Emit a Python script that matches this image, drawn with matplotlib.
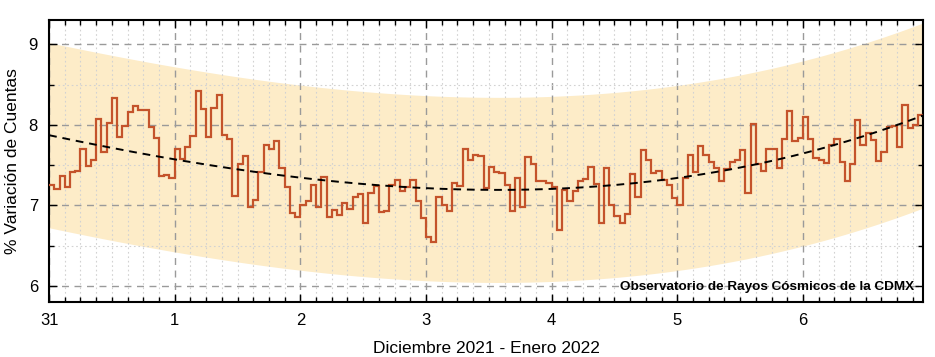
import numpy as np
import matplotlib
matplotlib.use("Agg")
import matplotlib.pyplot as plt
from matplotlib.ticker import MultipleLocator

# --- hourly % variation, Dec 31 2021 -> Jan 6 2022 ---
dec31 = [7.25, 7.21, 7.36, 7.23, 7.42, 7.43, 7.70, 7.49, 7.57, 8.08, 7.67, 8.03,
         8.34, 7.85, 7.99, 8.16, 8.24, 8.18, 8.18, 7.98, 7.84, 7.36, 7.38, 7.34]
jan1 = [7.70, 7.58, 7.73, 7.86, 8.42, 8.20, 7.85, 8.21, 8.37, 7.88, 7.82, 7.12,
        7.51, 7.62, 6.98, 7.07, 7.41, 7.75, 7.70, 7.80, 7.47, 7.23, 6.91, 6.86]
jan2 = [7.00, 7.06, 7.25, 6.98, 7.35, 6.86, 6.94, 6.88, 7.03, 6.96, 7.11, 7.14,
        6.78, 7.16, 7.24, 6.92, 6.93, 7.26, 7.32, 7.18, 7.23, 7.32, 7.05, 6.85]
jan3 = [6.61, 6.54, 7.11, 7.01, 6.93, 7.28, 7.24, 7.70, 7.57, 7.63, 7.61, 7.22,
        7.48, 7.42, 7.40, 7.25, 6.93, 7.34, 6.98, 7.60, 7.51, 7.31, 7.31, 7.28]
jan4 = [7.23, 6.69, 7.19, 7.05, 7.18, 7.30, 7.33, 7.48, 7.27, 6.78, 7.46, 7.00,
        6.87, 6.78, 6.89, 7.39, 7.10, 7.69, 7.56, 7.40, 7.43, 7.32, 7.25, 7.09]
jan5 = [7.01, 7.34, 7.63, 7.41, 7.74, 7.63, 7.54, 7.46, 7.31, 7.45, 7.54, 7.56,
        7.69, 7.15, 8.01, 7.51, 7.43, 7.70, 7.70, 7.47, 7.83, 8.17, 7.80, 7.84]
jan6 = [8.10, 7.82, 7.59, 7.56, 7.53, 7.75, 7.82, 7.54, 7.30, 7.51, 8.06, 7.75,
        7.90, 7.81, 7.55, 7.66, 7.98, 7.99, 7.73, 8.25, 7.96, 8.00, 8.12]

day_labels = ["31", "1", "2", "3", "4", "5", "6"]

# trend curve (dashed) read at each day mark, and the band half width
trend_days = [0, 1, 2, 3, 4, 5, 6, 6.98]
trend_vals = [7.87, 7.58, 7.34, 7.215, 7.205, 7.34, 7.65, 8.13]
band_halfwidth = 1.15

counts = np.array(dec31 + jan1 + jan2 + jan3 + jan4 + jan5 + jan6)
edges = np.arange(len(counts) + 1) / 24.0          # days from Dec 31 00h

# smooth trend through the read points
coef = np.polyfit(trend_days, trend_vals, 3)
t_fit = np.linspace(0, edges[-1], 300)
trend = np.polyval(coef, t_fit)

plt.rcParams["font.family"] = ["Liberation Sans", "DejaVu Sans"]

fig = plt.figure(figsize=(9.35, 3.57), dpi=100)
ax = fig.add_axes([0.0525, 0.154, 0.935, 0.789])

ax.fill_between(t_fit, trend - band_halfwidth, trend + band_halfwidth,
                color="#fdecc8", lw=0, zorder=0)
ax.stairs(counts, edges, baseline=None, color="#c4532b", lw=1.6, zorder=3)
ax.plot(t_fit, trend, color="black", ls=(0, (4, 3)), lw=1.4, zorder=4)

ax.set_xlim(0, edges[-1])
ax.set_ylim(5.8, 9.3)
ax.set_xticks(range(len(day_labels)))
ax.set_xticklabels(day_labels)
ax.xaxis.set_minor_locator(MultipleLocator(0.125))
ax.yaxis.set_major_locator(MultipleLocator(1))
ax.yaxis.set_minor_locator(MultipleLocator(0.5))

ax.set_axisbelow(True)
ax.grid(which="major", color="#9a9a9a", ls=(0, (5, 4)), lw=1.0)
ax.grid(which="minor", color="#d2d2d2", ls=(0, (1.5, 2.5)), lw=0.8)

ax.tick_params(which="both", direction="in", top=True, right=True,
               labelsize=12, width=1.0)
ax.tick_params(which="major", length=6, pad=8)
ax.tick_params(which="minor", length=3.5)
for sp in ax.spines.values():
    sp.set_linewidth(1.5)

ax.set_xlabel("Diciembre 2021 - Enero 2022", fontsize=12.5, labelpad=9)
ax.set_ylabel("% Variación de Cuentas", fontsize=12.5, labelpad=6)

ax.text(0.989, 5.95, "Observatorio de Rayos Cósmicos de la CDMX",
        transform=ax.get_yaxis_transform(), ha="right", va="baseline",
        fontsize=9.7, fontweight="bold", zorder=5)

fig.savefig("out.png", dpi=100)
plt.close(fig)
